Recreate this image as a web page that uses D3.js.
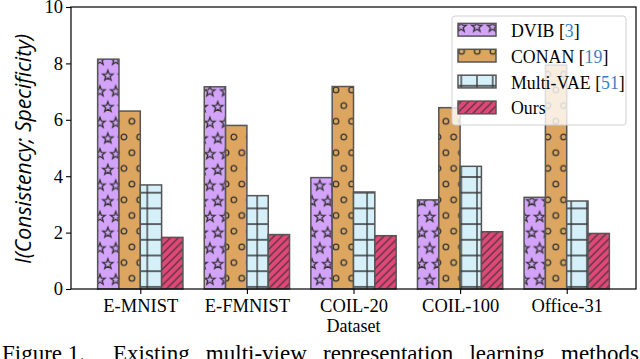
<!DOCTYPE html>
<html>
<head>
<meta charset="utf-8">
<script src="https://cdn.jsdelivr.net/npm/d3@7"></script>
<style>
  body { margin: 0; background: #fff; }
  svg { display: block; }
</style>
</head>
<body>
<svg id="chart" width="640" height="359"></svg>
<script>
// Data
const datasets = ["E-MNIST", "E-FMNIST", "COIL-20", "COIL-100", "Office-31"];
const methods = ["DVIB", "CONAN", "Multi-VAE", "Ours"];
const cites = ["3", "19", "51", ""];
const dvib = [8.15, 7.17, 3.95, 3.16, 3.25];
const conan = [6.31, 5.8, 7.18, 6.43, 7.94];
const multiVae = [3.69, 3.31, 3.44, 4.35, 3.12];
const ours = [1.83, 1.93, 1.89, 2.03, 1.97];
const yTicks = [0, 2, 4, 6, 8, 10];
const captionHead = "Figure 1.";
const captionWords = ["Existing", "multi-view", "representation", "learning", "methods"];

const series = [dvib, conan, multiVae, ours];
const fills = ["#d3a2f9", "#dca660", "#d6f0fa", "#e14878"];
const patternIds = ["hatch-star", "hatch-circle", "hatch-grid", "hatch-diag"];

const margin = { top: 7, right: 4, bottom: 70, left: 71 };
const width = 640;
const height = 359;
const plotW = width - margin.left - margin.right;

const serif = "'Liberation Serif', 'Times New Roman', serif";
const hatchColor = "#333";
const edgeColor = "#555";

const svg = d3.select("#chart");
const defs = svg.append("defs");

// Hatch tile size (matplotlib hatches are in device space, so userSpaceOnUse)
const T = 15.7;

function starPath(cx, cy, r) {
  const pts = [];
  for (let i = 0; i < 10; i++) {
    const a = -Math.PI / 2 + (i * Math.PI) / 5;
    const rr = i % 2 === 0 ? r : r * 0.42;
    pts.push([cx + rr * Math.cos(a), cy + rr * Math.sin(a)]);
  }
  return "M" + pts.map((p) => p.join(",")).join("L") + "Z";
}

function basePattern(id, fill, x, y, w, h) {
  const p = defs
    .append("pattern")
    .attr("id", id)
    .attr("patternUnits", "userSpaceOnUse")
    .attr("x", x)
    .attr("y", y)
    .attr("width", w)
    .attr("height", h);
  p.append("rect").attr("width", w).attr("height", h).attr("fill", fill);
  return p;
}

// stars
const starPat = basePattern(patternIds[0], fills[0], 100, 60, T, 2 * T);
[[0, 0], [T, 0], [0, 2 * T], [T, 2 * T], [T / 2, T]].forEach(([cx, cy]) => {
  starPat
    .append("path")
    .attr("d", starPath(cx, cy, 5.4))
    .attr("fill", "none")
    .attr("stroke", hatchColor)
    .attr("stroke-width", 1.3)
    .attr("stroke-linejoin", "miter");
});

// circles
const circPat = basePattern(patternIds[1], fills[1], 124, 137, T, 2 * T);
[[0, 0], [T, 0], [0, 2 * T], [T, 2 * T], [T / 2, T]].forEach(([cx, cy]) => {
  circPat
    .append("circle")
    .attr("cx", cx)
    .attr("cy", cy)
    .attr("r", 2.8)
    .attr("fill", "none")
    .attr("stroke", hatchColor)
    .attr("stroke-width", 1.3);
});

// grid
const gridPat = basePattern(patternIds[2], fills[2], 147.3 - T / 2, 192.7 - T / 2, T, T);
gridPat
  .append("path")
  .attr("d", `M${T / 2},0V${T}M0,${T / 2}H${T}`)
  .attr("stroke", hatchColor)
  .attr("stroke-width", 1.3);

// diagonal lines
const P = T / 2;
const diagPat = basePattern(patternIds[3], fills[3], 0, 0, P, P);
diagPat
  .append("path")
  .attr("d", `M-1,${P + 1}L${P + 1},-1M-1,1L1,-1M${P - 1},${P + 1}L${P + 1},${P - 1}`)
  .attr("stroke", hatchColor)
  .attr("stroke-width", 1.2);

// Scales
const x = d3
  .scalePoint()
  .domain(datasets)
  .range([margin.left, margin.left + plotW])
  .padding(0.65);

const groupW = x.step() * 0.8;
const xInner = d3
  .scaleBand()
  .domain(d3.range(methods.length))
  .range([-groupW / 2, groupW / 2]);

const y = d3
  .scaleLinear()
  .domain([0, 10])
  .range([289, margin.top]);

// Bars
const barGroups = svg
  .append("g")
  .selectAll("g")
  .data(series)
  .enter()
  .append("g")
  .attr("fill", (d, i) => `url(#${patternIds[i]})`);

barGroups
  .selectAll("rect")
  .data((vals, si) => vals.map((v, di) => ({ v, di, si })))
  .enter()
  .append("rect")
  .attr("x", (d) => x(datasets[d.di]) + xInner(d.si))
  .attr("y", (d) => y(d.v))
  .attr("width", xInner.bandwidth())
  .attr("height", (d) => y(0) - y(d.v))
  .attr("stroke", edgeColor)
  .attr("stroke-width", 1.5);

// Axes
const yAxis = d3
  .axisLeft(y)
  .tickValues(yTicks)
  .tickSize(5)
  .tickPadding(3)
  .tickFormat(d3.format("d"));

const gy = svg
  .append("g")
  .attr("transform", `translate(${margin.left},0)`)
  .call(yAxis);

const xAxis = d3.axisBottom(x).tickSize(5).tickPadding(4);
const gx = svg
  .append("g")
  .attr("transform", `translate(0,${y(0)})`)
  .call(xAxis);

[gx, gy].forEach((g) => {
  g.select(".domain").remove();
  g.selectAll("line").attr("stroke", "#000").attr("stroke-width", 1.1);
  g.selectAll("text")
    .attr("fill", "#000")
    .style("font-family", serif)
    .style("font-size", "18.5px");
});
gx.selectAll("text").attr("dy", "0.75em");

// Frame
svg
  .append("rect")
  .attr("x", margin.left)
  .attr("y", margin.top)
  .attr("width", plotW)
  .attr("height", y(0) - margin.top)
  .attr("fill", "none")
  .attr("stroke", "#000")
  .attr("stroke-width", 1.2);

// Axis labels
const yLabel = svg
  .append("text")
  .attr("transform", `translate(31,${(margin.top + y(0)) / 2 + 1}) rotate(-90)`)
  .attr("text-anchor", "middle")
  .style("font-family", "'Open Sans', 'DejaVu Sans', sans-serif")
  .style("font-style", "italic")
  .style("font-size", "16px")
  .text("I(Consistency; Specificity)");
const yLen = yLabel.node().getComputedTextLength();
yLabel.style("font-size", `${(16 * 230) / yLen}px`);

svg
  .append("text")
  .attr("x", x("COIL-20"))
  .attr("y", 332)
  .attr("text-anchor", "middle")
  .style("font-family", serif)
  .style("font-size", "18px")
  .text("Dataset");

// Legend
const legX = 452;
const legY = 16;
svg
  .append("rect")
  .attr("x", legX)
  .attr("y", legY)
  .attr("width", 174)
  .attr("height", 109)
  .attr("rx", 3)
  .attr("fill", "#fff")
  .attr("fill-opacity", 0.8)
  .attr("stroke", "#d0d0d0")
  .attr("stroke-width", 1);

const legRows = svg
  .append("g")
  .selectAll("g")
  .data(methods)
  .enter()
  .append("g")
  .attr("transform", (d, i) => `translate(0,${29.7 + i * 25.9})`);

legRows
  .append("rect")
  .attr("x", 458)
  .attr("y", -6.3)
  .attr("width", 38)
  .attr("height", 12.7)
  .attr("fill", (d, i) => `url(#${patternIds[i]})`)
  .attr("stroke", edgeColor)
  .attr("stroke-width", 1.5);

const legText = legRows
  .append("text")
  .attr("x", 511)
  .attr("y", 7)
  .style("font-family", serif)
  .style("font-size", "17.8px")
  .attr("fill", "#000");

legText.append("tspan").text((d) => d);
legText
  .filter((d, i) => cites[i])
  .each(function (d) {
    const t = d3.select(this);
    const c = cites[methods.indexOf(d)];
    t.append("tspan").text(" [");
    t.append("tspan").attr("fill", "#3a7fc2").text(c);
    t.append("tspan").text("]");
  });

// Caption (justified, cut by the bottom edge as in the source)
const capY = 361;
const capSize = 23;
svg
  .append("text")
  .attr("x", 2)
  .attr("y", capY)
  .style("font-family", serif)
  .style("font-size", `${capSize}px`)
  .text(captionHead);

const words = svg
  .append("g")
  .selectAll("text")
  .data(captionWords)
  .enter()
  .append("text")
  .attr("y", capY)
  .style("font-family", serif)
  .style("font-size", `${capSize}px`)
  .text((d) => d);

const widths = [];
words.each(function () {
  widths.push(this.getComputedTextLength());
});
const startX = 113;
const endX = 639;
const gap = (endX - startX - d3.sum(widths)) / (captionWords.length - 1);
let cur = startX;
words.attr("x", (d, i) => {
  const pos = cur;
  cur += widths[i] + gap;
  return pos;
});
</script>
</body>
</html>
